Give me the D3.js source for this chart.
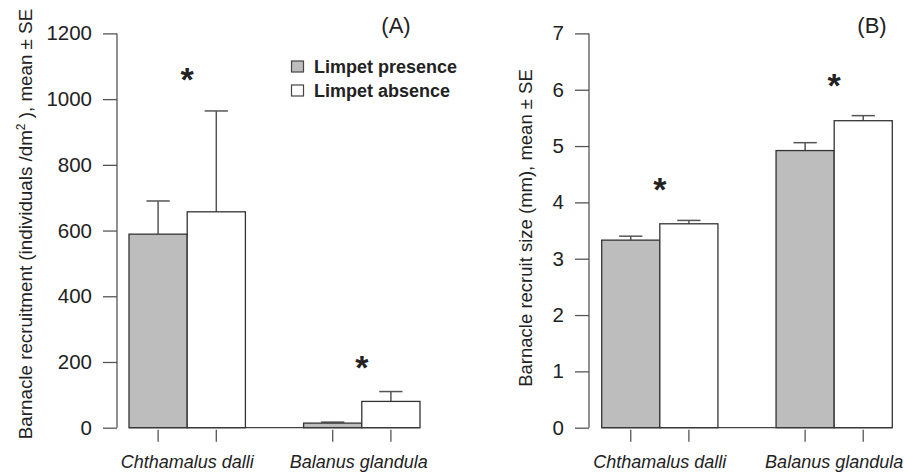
<!DOCTYPE html>
<html>
<head>
<meta charset="utf-8">
<script src="https://cdn.jsdelivr.net/npm/d3@7"></script>
<style>
  body { margin: 0; background: #fff; }
  text { font-family: "Liberation Sans", Arial, sans-serif; fill: #222; }
</style>
</head>
<body>
<script>
// data
const species = ["Chthamalus dalli", "Balanus glandula"];
const treatments = ["Limpet presence", "Limpet absence"];
const recruitMean = [[589, 657], [14, 80]];
const recruitSE = [[101, 307], [3, 30]];
const sizeMean = [[3.33, 3.62], [4.92, 5.45]];
const sizeSE = [[0.07, 0.06], [0.14, 0.09]];
const recruitTicks = [0, 200, 400, 600, 800, 1000, 1200];
const sizeTicks = [0, 1, 2, 3, 4, 5, 6, 7];
const fills = ["#bdbdbd", "#ffffff"];

const W = 904, H = 476;
const svg = d3.select("body").append("svg")
    .attr("width", W)
    .attr("height", H);

function panel(opt) {
    const y = d3.scaleLinear().domain(opt.yDomain).range([427.7, 33.4]);
    const x0 = d3.scaleBand().domain(species)
        .range([opt.barLeft, opt.barRight]).paddingInner(1 / 3).paddingOuter(0);
    const x1 = d3.scaleBand().domain(treatments).range([0, x0.bandwidth()]);

    const g = svg.append("g");

    // y axis, R style
    const ax = g.append("g")
        .attr("transform", "translate(" + opt.axisX + ",0)")
        .call(d3.axisLeft(y).tickValues(opt.ticks).tickFormat(d3.format("d"))
            .tickSize(14).tickPadding(11).tickSizeOuter(0));
    ax.attr("font-size", 20.5).attr("font-family", "Liberation Sans, Arial, sans-serif");
    ax.select(".domain").attr("stroke", "#555").attr("stroke-width", 1.3)
        .attr("d", "M0," + y(opt.yDomain[0]) + "V" + y(opt.yDomain[1]));
    ax.selectAll(".tick line").attr("stroke", "#555").attr("stroke-width", 1.3);
    ax.selectAll(".tick text").style("font-size", "20.5px").attr("fill", "#222");

    // baseline under the bars
    g.append("line")
        .attr("x1", opt.barLeft).attr("x2", opt.barRight)
        .attr("y1", y(0)).attr("y2", y(0))
        .attr("stroke", "#444").attr("stroke-width", 1.3);

    species.forEach(function(sp, i) {
        treatments.forEach(function(tr, j) {
            const bx = x0(sp) + x1(tr);
            const bw = x1.bandwidth();
            const cx = bx + bw / 2;
            const m = opt.mean[i][j], se = opt.se[i][j];
            // error bar (upper only)
            g.append("line")
                .attr("x1", cx).attr("x2", cx)
                .attr("y1", y(m)).attr("y2", y(m + se))
                .attr("stroke", "#555").attr("stroke-width", 1.5);
            g.append("line")
                .attr("x1", cx - bw * 0.2).attr("x2", cx + bw * 0.2)
                .attr("y1", y(m + se)).attr("y2", y(m + se))
                .attr("stroke", "#555").attr("stroke-width", 1.5);
            g.append("rect")
                .attr("x", bx).attr("y", y(m))
                .attr("width", bw).attr("height", y(0) - y(m))
                .attr("fill", fills[j]).attr("stroke", "#333").attr("stroke-width", 1.3);
            // x ticks at bar centres
            g.append("line")
                .attr("x1", cx).attr("x2", cx)
                .attr("y1", y(0) + 2).attr("y2", y(0) + 14)
                .attr("stroke", "#555").attr("stroke-width", 1.3);
        });
        g.append("text")
            .attr("x", x0(sp) + x0.bandwidth() / 2 + opt.labelShift[i])
            .attr("y", 468)
            .attr("text-anchor", "middle")
            .style("font-size", "18px")
            .style("font-style", "italic")
            .text(sp);
        // significance star
        g.append("text")
            .attr("x", x0(sp) + x0.bandwidth() / 2)
            .attr("y", opt.starY[i])
            .attr("text-anchor", "middle")
            .style("font-size", "34px")
            .style("font-weight", "bold")
            .text("*");
    });

    // panel letter
    g.append("text")
        .attr("x", opt.letterX).attr("y", 33)
        .attr("text-anchor", "middle")
        .style("font-size", "22px")
        .text(opt.letter);

    // y title
    const t = g.append("text")
        .attr("transform", "translate(" + opt.titleX + "," + opt.titleY + ") rotate(-90)")
        .attr("text-anchor", "middle")
        .style("font-size", opt.titleSize + "px");
    opt.title(t);
}

panel({
    yDomain: [0, 1200], ticks: recruitTicks,
    mean: recruitMean, se: recruitSE,
    axisX: 117, barLeft: 129, barRight: 420,
    labelShift: [0, -3],
    starY: [91, 379],
    letter: "(A)", letterX: 396,
    titleX: 31.5, titleY: 224, titleSize: 18.8,
    title: function(t) {
        t.append("tspan").text("Barnacle recruitment (individuals /dm");
        t.append("tspan").attr("baseline-shift", "super").style("font-size", "12px").text("2");
        t.append("tspan").text(" ), mean \u00b1 SE");
    }
});

panel({
    yDomain: [0, 7], ticks: sizeTicks,
    mean: sizeMean, se: sizeSE,
    axisX: 589, barLeft: 601.7, barRight: 892.3,
    labelShift: [0, 0],
    starY: [201, 97],
    letter: "(B)", letterX: 872,
    titleX: 531.5, titleY: 228, titleSize: 18.5,
    title: function(t) {
        t.text("Barnacle recruit size (mm), mean \u00b1 SE");
    }
});

// legend
const legend = svg.append("g");
treatments.forEach(function(tr, j) {
    legend.append("rect")
        .attr("x", 291.5).attr("y", 61 + j * 24)
        .attr("width", 12).attr("height", 11)
        .attr("fill", fills[j]).attr("stroke", "#444").attr("stroke-width", 1.2);
    legend.append("text")
        .attr("x", 314).attr("y", 73 + j * 24)
        .style("font-size", "18px")
        .style("font-weight", "bold")
        .text(tr);
});
</script>
</body>
</html>
